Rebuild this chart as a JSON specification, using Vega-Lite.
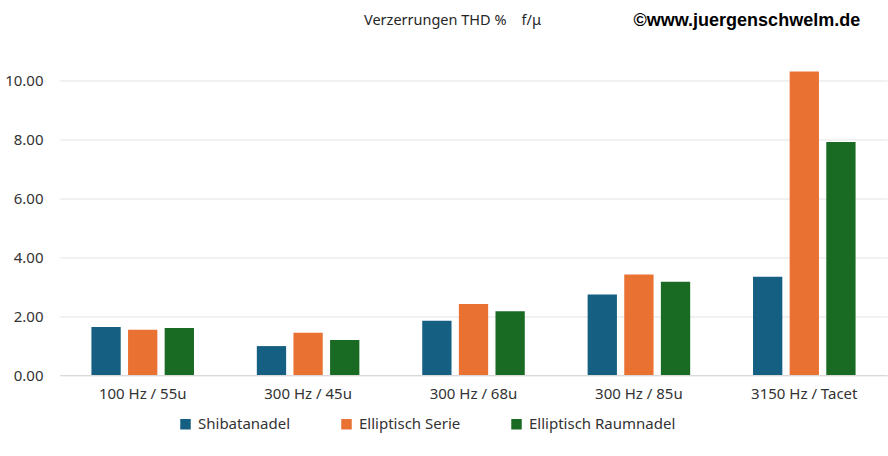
{
  "$schema": "https://vega.github.io/schema/vega-lite/v6.json",
  "autosize": {"type": "none"},
  "width": 827,
  "height": 324.5,
  "padding": {"left": 60, "top": 50.5, "right": 1, "bottom": 81},
  "background": "white",
  "title": {
    "text": "Verzerrungen THD %\u00a0\u00a0\u00a0 f/μ",
    "anchor": "middle",
    "dx": -21,
    "offset": -17,
    "font": "Noto Sans",
    "fontSize": 14.5,
    "fontWeight": "normal",
    "color": "#262626"
  },
  "data": {
    "values": [
      {"cat": "100 Hz / 55u", "series": "Shibatanadel", "v": 1.63},
      {"cat": "100 Hz / 55u", "series": "Elliptisch Serie", "v": 1.53},
      {"cat": "100 Hz / 55u", "series": "Elliptisch Raumnadel", "v": 1.59},
      {"cat": "300 Hz / 45u", "series": "Shibatanadel", "v": 0.98},
      {"cat": "300 Hz / 45u", "series": "Elliptisch Serie", "v": 1.43},
      {"cat": "300 Hz / 45u", "series": "Elliptisch Raumnadel", "v": 1.19},
      {"cat": "300 Hz / 68u", "series": "Shibatanadel", "v": 1.84},
      {"cat": "300 Hz / 68u", "series": "Elliptisch Serie", "v": 2.41},
      {"cat": "300 Hz / 68u", "series": "Elliptisch Raumnadel", "v": 2.16},
      {"cat": "300 Hz / 85u", "series": "Shibatanadel", "v": 2.73},
      {"cat": "300 Hz / 85u", "series": "Elliptisch Serie", "v": 3.41},
      {"cat": "300 Hz / 85u", "series": "Elliptisch Raumnadel", "v": 3.16},
      {"cat": "3150 Hz / Tacet", "series": "Shibatanadel", "v": 3.33},
      {"cat": "3150 Hz / Tacet", "series": "Elliptisch Serie", "v": 10.29},
      {"cat": "3150 Hz / Tacet", "series": "Elliptisch Raumnadel", "v": 7.9}
    ]
  },
  "mark": {"type": "bar"},
  "encoding": {
    "x": {
      "field": "cat",
      "type": "nominal",
      "sort": null,
      "scale": {"paddingInner": 0.38, "paddingOuter": 0.19},
      "axis": {
        "title": null,
        "labelAngle": 0,
        "labelFont": "Noto Sans",
        "labelFontSize": 15,
        "labelColor": "#333333",
        "labelPadding": 11,
        "ticks": false,
        "domainColor": "#D9D9D9",
        "grid": false
      }
    },
    "xOffset": {
      "field": "series",
      "type": "nominal",
      "sort": ["Shibatanadel", "Elliptisch Serie", "Elliptisch Raumnadel"],
      "scale": {"paddingInner": 0.2, "paddingOuter": 0}
    },
    "y": {
      "field": "v",
      "type": "quantitative",
      "scale": {"domain": [0, 11], "nice": false},
      "axis": {
        "values": [0, 2, 4, 6, 8, 10],
        "format": ".2f",
        "title": "©www.juergenschwelm.de",
        "titleAngle": 0,
        "titleAlign": "left",
        "titleBaseline": "middle",
        "titleX": 573,
        "titleY": -30.5,
        "titleFont": "Liberation Sans",
        "titleFontSize": 18,
        "titleFontWeight": "bold",
        "titleColor": "#000000",
        "labelFont": "Noto Sans",
        "labelFontSize": 15,
        "labelColor": "#333333",
        "labelPadding": 17,
        "ticks": false,
        "domain": false,
        "gridColor": "#E3E3E3"
      }
    },
    "color": {
      "field": "series",
      "type": "nominal",
      "sort": ["Shibatanadel", "Elliptisch Serie", "Elliptisch Raumnadel"],
      "scale": {
        "domain": ["Shibatanadel", "Elliptisch Serie", "Elliptisch Raumnadel"],
        "range": ["#156082", "#E97132", "#196B24"]
      },
      "legend": {
        "title": null,
        "orient": "none",
        "direction": "horizontal",
        "legendX": 118,
        "legendY": 366,
        "symbolType": "square",
        "symbolSize": 110,
        "symbolStrokeWidth": 0,
        "labelFont": "Noto Sans",
        "labelFontSize": 15,
        "labelColor": "#333333",
        "columnPadding": 48,
        "labelOffset": 5
      }
    }
  },
  "config": {
    "view": {"stroke": null}
  }
}
